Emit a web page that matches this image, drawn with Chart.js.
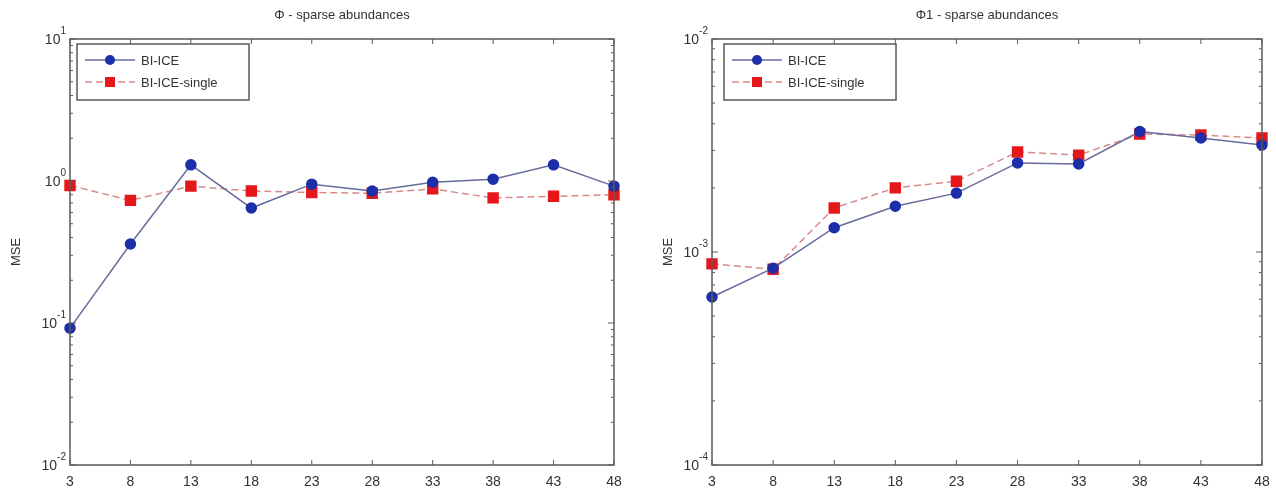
<!DOCTYPE html>
<html>
<head>
<meta charset="utf-8">
<script src="https://cdn.jsdelivr.net/npm/chart.js@4"></script>
<style>
  html, body { margin: 0; padding: 0; background: #fff; }
  #wrap { width: 1276px; height: 490px; position: relative; }
  .cell { position: absolute; top: 0; height: 490px; }
  #c1 { left: 0; width: 640px; }
  #c2 { left: 638px; width: 638px; }
</style>
</head>
<body>
<div id="wrap">
  <div class="cell" id="c1"><canvas id="leftChart"></canvas></div>
  <div class="cell" id="c2"><canvas id="rightChart"></canvas></div>
</div>
<script>
// ── Data ──────────────────────────────────────────────────────
const xTicks = [3, 8, 13, 18, 23, 28, 33, 38, 43, 48];
const seriesNames = ["BI-ICE", "BI-ICE-single"];

// left panel: Φ - sparse abundances
const phiBiIce       = [0.092, 0.36, 1.30, 0.645, 0.95, 0.85, 0.98, 1.03, 1.30, 0.92];
const phiBiIceSingle = [0.93, 0.73, 0.92, 0.85, 0.83, 0.82, 0.88, 0.76, 0.78, 0.80];
const phiDecades     = [-2, -1, 0, 1];

// right panel: Φ1 - sparse abundances
const phi1BiIce       = [6.15e-4, 8.4e-4, 1.30e-3, 1.64e-3, 1.89e-3, 2.62e-3, 2.59e-3, 3.68e-3, 3.43e-3, 3.18e-3];
const phi1BiIceSingle = [8.8e-4, 8.3e-4, 1.61e-3, 2.0e-3, 2.15e-3, 2.95e-3, 2.85e-3, 3.58e-3, 3.54e-3, 3.43e-3];
const phi1Decades     = [-4, -3, -2];

// ── Styles ────────────────────────────────────────────────────
const AXIS = "#5a5a5a";
const TEXT = "#333";
const FONT = "Liberation Sans, Arial, sans-serif";
const BLUE_LINE = "#666c9c", BLUE_DOT = "#1c2ea8";
const RED_LINE = "#d88a8a", RED_DOT = "#e5171b";

// ── Frame / ticks / labels / legend (MATLAB look) ─────────────
const matlabFrame = {
  id: "matlabFrame",
  afterDraw(chart, args, opts) {
    const { ctx, chartArea: a, scales: { x, y } } = chart;
    ctx.save();
    ctx.strokeStyle = AXIS;
    ctx.lineWidth = 1.5;
    ctx.strokeRect(a.left, a.top, a.right - a.left, a.bottom - a.top);

    ctx.lineWidth = 1;
    ctx.beginPath();
    xTicks.forEach(v => {
      const px = x.getPixelForValue(v);
      ctx.moveTo(px, a.bottom); ctx.lineTo(px, a.bottom - 5);
      ctx.moveTo(px, a.top);    ctx.lineTo(px, a.top + 5);
    });
    const dec = opts.decades;
    dec.forEach((d, i) => {
      if (i === dec.length - 1) return;
      for (let m = 2; m <= 9; m++) {
        const py = y.getPixelForValue(m * Math.pow(10, d));
        ctx.moveTo(a.left, py);  ctx.lineTo(a.left + 3, py);
        ctx.moveTo(a.right, py); ctx.lineTo(a.right - 3, py);
      }
    });
    dec.forEach(d => {
      const py = y.getPixelForValue(Math.pow(10, d));
      ctx.moveTo(a.left, py);  ctx.lineTo(a.left + 6, py);
      ctx.moveTo(a.right, py); ctx.lineTo(a.right - 6, py);
    });
    ctx.stroke();

    // decade labels 10^n
    ctx.fillStyle = TEXT;
    dec.forEach(d => {
      const py = y.getPixelForValue(Math.pow(10, d));
      const exp = String(d);
      ctx.font = "10px " + FONT;
      const ew = ctx.measureText(exp).width;
      ctx.textBaseline = "alphabetic";
      ctx.textAlign = "left";
      const right = a.left - 4;
      ctx.fillText(exp, right - ew, py - 5);
      ctx.font = "14px " + FONT;
      ctx.textAlign = "right";
      ctx.fillText("10", right - ew, py + 5);
    });

    // y title
    ctx.font = "13px " + FONT;
    ctx.save();
    ctx.translate(opts.ylabelX, (a.top + a.bottom) / 2);
    ctx.rotate(-Math.PI / 2);
    ctx.textAlign = "center";
    ctx.textBaseline = "middle";
    ctx.fillText("MSE", 0, 0);
    ctx.restore();

    // title
    ctx.font = "13px " + FONT;
    ctx.textAlign = "center";
    ctx.textBaseline = "middle";
    ctx.fillText(opts.title, (a.left + a.right) / 2, 15);

    // legend
    const lx = a.left + opts.legendDx, ly = a.top + 5, lw = 172, lh = 56;
    ctx.fillStyle = "#fff";
    ctx.fillRect(lx, ly, lw, lh);
    ctx.strokeStyle = AXIS;
    ctx.lineWidth = 1.5;
    ctx.strokeRect(lx, ly, lw, lh);
    chart.data.datasets.forEach((ds, i) => {
      const ry = ly + 16 + i * 22;
      ctx.strokeStyle = ds.borderColor;
      ctx.lineWidth = 1.5;
      ctx.setLineDash(ds.borderDash || []);
      ctx.beginPath(); ctx.moveTo(lx + 8, ry); ctx.lineTo(lx + 58, ry); ctx.stroke();
      ctx.setLineDash([]);
      ctx.fillStyle = ds.pointBackgroundColor;
      if (ds.pointStyle === "rect") {
        ctx.fillRect(lx + 28, ry - 5, 10, 10);
      } else {
        ctx.beginPath(); ctx.arc(lx + 33, ry, 5, 0, Math.PI * 2); ctx.fill();
      }
      ctx.fillStyle = TEXT;
      ctx.font = "13px " + FONT;
      ctx.textAlign = "left";
      ctx.fillText(ds.label, lx + 64, ry + 1);
    });
    ctx.restore();
  }
};

function makeDatasets(blue, red) {
  return [
    {
      label: seriesNames[0],
      data: xTicks.map((x, i) => ({ x, y: blue[i] })),
      borderColor: BLUE_LINE, borderWidth: 1.5,
      pointStyle: "circle", pointRadius: 5,
      pointBackgroundColor: BLUE_DOT, pointBorderColor: BLUE_DOT,
      tension: 0, clip: false,
    },
    {
      label: seriesNames[1],
      data: xTicks.map((x, i) => ({ x, y: red[i] })),
      borderColor: RED_LINE, borderWidth: 1.5, borderDash: [7, 4],
      pointStyle: "rect", pointRadius: 7,
      pointBackgroundColor: RED_DOT, pointBorderColor: RED_DOT,
      tension: 0, clip: false,
    }
  ];
}

function makeChart(id, blue, red, decades, cfg) {
  const ctx = document.getElementById(id).getContext("2d");
  return new Chart(ctx, {
    type: "line",
    data: { datasets: makeDatasets(blue, red) },
    options: {
      responsive: true, maintainAspectRatio: false, animation: false,
      layout: { padding: { left: 0, right: cfg.padRight, top: 39, bottom: 0 } },
      plugins: {
        legend: { display: false }, tooltip: { enabled: false },
        matlabFrame: { decades, title: cfg.title, legendDx: cfg.legendDx, ylabelX: cfg.ylabelX }
      },
      scales: {
        x: {
          type: "linear", min: xTicks[0], max: xTicks[xTicks.length - 1],
          afterBuildTicks: s => { s.ticks = xTicks.map(v => ({ value: v })); },
          afterFit: s => { s.height = 25; },
          grid: { display: false }, border: { display: false },
          ticks: { color: TEXT, font: { size: 14, family: FONT }, padding: 1, maxRotation: 0, autoSkip: false }
        },
        y: {
          type: "logarithmic",
          min: Math.pow(10, decades[0]), max: Math.pow(10, decades[decades.length - 1]),
          afterFit: s => { s.width = cfg.yWidth; },
          grid: { display: false }, border: { display: false },
          ticks: { display: false }
        }
      }
    },
    plugins: [matlabFrame]
  });
}

makeChart("leftChart", phiBiIce, phiBiIceSingle, phiDecades,
  { title: "Φ - sparse abundances", padRight: 26, yWidth: 70, legendDx: 7, ylabelX: 16 });
makeChart("rightChart", phi1BiIce, phi1BiIceSingle, phi1Decades,
  { title: "Φ1 - sparse abundances", padRight: 14, yWidth: 74, legendDx: 12, ylabelX: 30 });
</script>
</body>
</html>
